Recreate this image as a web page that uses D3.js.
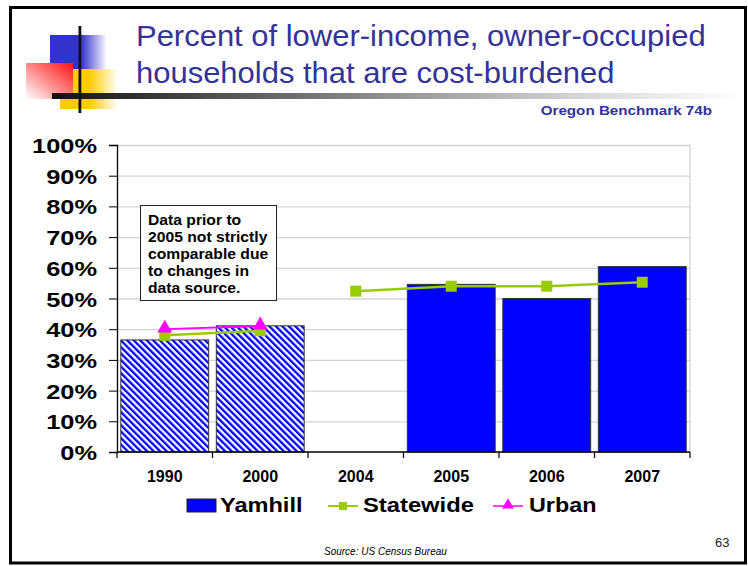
<!DOCTYPE html>
<html>
<head>
<meta charset="utf-8">
<script src="https://cdn.jsdelivr.net/npm/d3@7"></script>
<style>
  html, body { margin: 0; padding: 0; background: #fff; }
  svg { display: block; }
  text { font-family: "Liberation Sans", Arial, sans-serif; }
</style>
</head>
<body>
<script>
// ---------- data ----------
const years      = ["1990", "2000", "2004", "2005", "2006", "2007"];
const period     = ["old", "old", "new", "new", "new", "new"];   // data prior to 2005 not comparable
const yamhill    = [0.365, 0.411, null, 0.546, 0.500, 0.604];
const statewide  = [0.380, 0.395, 0.524, 0.540, 0.540, 0.553];
const urban      = [0.400, 0.410, null, null, null, null];
const yTicks     = [0, 0.1, 0.2, 0.3, 0.4, 0.5, 0.6, 0.7, 0.8, 0.9, 1.0];
const titleLines = ["Percent of lower-income, owner-occupied", "households that are cost-burdened"];
const subtitle   = "Oregon Benchmark 74b";
const noteLines  = ["Data prior to", "2005 not strictly", "comparable due", "to changes in", "data source."];
const seriesNames = ["Yamhill", "Statewide", "Urban"];
const sourceText = "Source:  US Census Bureau";
const pageNum    = "63";

// ---------- setup ----------
const W = 748, H = 566;
const svg = d3.select("body").append("svg").attr("width", W).attr("height", H);
const defs = svg.append("defs");

// gradients
function linGrad(id, x1, y1, x2, y2, stops) {
  const g = defs.append("linearGradient").attr("id", id)
    .attr("x1", x1).attr("y1", y1).attr("x2", x2).attr("y2", y2);
  stops.forEach(s => g.append("stop").attr("offset", s[0]).attr("stop-color", s[1]));
}
linGrad("gBlue", 0, 0, 1, 0, [[0, "#3333cc"], [0.55, "#3333cc"], [1, "#ffffff"]]);
linGrad("gYellow", 0, 0, 1, 0, [[0, "#ffcc00"], [0.5, "#ffcc00"], [1, "#ffffff"]]);
linGrad("gRed", 1, 0, 0, 1, [[0, "#ff1010"], [1, "#ffffff"]]);
linGrad("gBar", 0, 0, 1, 0, [[0, "#111111"], [0.45, "#888888"], [0.8, "#dddddd"], [1, "#ffffff"]]);

// hatch pattern
const hp = 4.6;
const pat = defs.append("pattern").attr("id", "hatch")
  .attr("patternUnits", "userSpaceOnUse").attr("width", hp).attr("height", hp)
  .attr("patternTransform", "rotate(-45)");
pat.append("rect").attr("width", hp).attr("height", hp).attr("fill", "#ffffff");
pat.append("rect").attr("width", hp / 2).attr("height", hp).attr("fill", "#0000ff");

// ---------- slide frame ----------
svg.append("rect").attr("x", 10.5).attr("y", 7.5).attr("width", 735).attr("height", 555.5)
  .attr("fill", "#fff").attr("stroke", "#000").attr("stroke-width", 3);

// ---------- logo ----------
svg.append("rect").attr("x", 50).attr("y", 35).attr("width", 57).attr("height", 35).attr("fill", "url(#gBlue)");
svg.append("rect").attr("x", 60).attr("y", 69).attr("width", 58).attr("height", 40).attr("fill", "url(#gYellow)");
svg.append("rect").attr("x", 26).attr("y", 63).attr("width", 47).attr("height", 36).attr("fill", "url(#gRed)");
svg.append("rect").attr("x", 52).attr("y", 93).attr("width", 690).attr("height", 6).attr("fill", "url(#gBar)");
svg.append("rect").attr("x", 78.5).attr("y", 26).attr("width", 2.8).attr("height", 87).attr("fill", "#111");

// ---------- title ----------
const titleG = svg.append("g");
titleLines.forEach((t, i) => {
  titleG.append("text")
    .attr("transform", `translate(136,${46 + i * 36.5}) scale(1.05,1)`)
    .attr("font-size", 29.5).attr("fill", "#333399").text(t);
});
svg.append("text")
  .attr("transform", "translate(712,115) scale(1.17,1)")
  .attr("text-anchor", "end").attr("font-size", 13).attr("font-weight", "bold")
  .attr("fill", "#333399").text(subtitle);

// ---------- chart ----------
const L = 117, R = 690, T = 145, B = 452;
const x = d3.scaleBand().domain(years).range([L, R]).paddingInner(0.08).paddingOuter(0.04);
const y = d3.scaleLinear().domain([0, 1]).range([B, T]);
const step = x.step();
const cx = d => x(d) + x.bandwidth() / 2;

// plot background + gridlines
svg.append("rect").attr("x", L).attr("y", T).attr("width", R - L).attr("height", B - T).attr("fill", "#fff");
const grid = svg.append("g").attr("transform", `translate(${L},0)`)
  .call(d3.axisLeft(y).tickValues(yTicks.slice(1)).tickSize(-(R - L)).tickFormat(""));
grid.select(".domain").remove();
grid.selectAll("line").attr("stroke", "#d4d4d4").attr("stroke-width", 1.3);
svg.append("line").attr("x1", R).attr("x2", R).attr("y1", T).attr("y2", B)
  .attr("stroke", "#d4d4d4").attr("stroke-width", 1.3);

// bars
svg.append("g").selectAll("rect")
  .data(years.map((d, i) => ({ year: d, v: yamhill[i], p: period[i] })).filter(d => d.v != null))
  .join("rect")
  .attr("x", d => x(d.year)).attr("width", x.bandwidth())
  .attr("y", d => y(d.v)).attr("height", d => B - y(d.v))
  .attr("fill", d => d.p === "old" ? "url(#hatch)" : "#0000ff")
  .attr("stroke", "#333").attr("stroke-width", 1);

// y axis
const yAx = svg.append("g").attr("transform", `translate(${L},0)`)
  .call(d3.axisLeft(y).tickValues(yTicks).tickSize(8).tickFormat(d3.format(".0%")));
yAx.select(".domain").attr("stroke", "#000").attr("stroke-width", 1.3);
yAx.selectAll("line").attr("stroke", "#000");
yAx.selectAll("text")
  .attr("font-family", "Liberation Sans, Arial, sans-serif")
  .attr("font-size", 21).attr("font-weight", "bold").attr("fill", "#000")
  .attr("x", -20 / 1.21).attr("dy", "0.36em")
  .attr("transform", "scale(1.21,1)");

// x axis
const xAx = svg.append("g").attr("transform", `translate(0,${B})`)
  .call(d3.axisBottom(x).tickSize(0).tickPadding(0));
xAx.select(".domain").attr("stroke", "#000").attr("stroke-width", 1.3).attr("d", `M${L},0H${R}`);
xAx.selectAll("text")
  .attr("font-family", "Liberation Sans, Arial, sans-serif")
  .attr("font-size", 16).attr("font-weight", "bold").attr("fill", "#000")
  .attr("y", 29.5).attr("dy", 0);
const bounds = years.map(d => x(d) - step * x.paddingInner() / 2).concat([R]);
bounds[0] = L;
xAx.append("g").selectAll("line").data(bounds).join("line")
  .attr("x1", d => d).attr("x2", d => d).attr("y1", 0).attr("y2", 6)
  .attr("stroke", "#000").attr("stroke-width", 1.2);

// lines
const pts = (vals) => years.map((d, i) => ({ year: d, v: vals[i], p: period[i] })).filter(d => d.v != null);
const lineGen = d3.line().x(d => cx(d.year)).y(d => y(d.v));
function drawLine(vals, color, width) {
  const all = pts(vals);
  ["old", "new"].forEach(p => {
    const seg = all.filter(d => d.p === p);
    if (seg.length > 1) {
      svg.append("path").datum(seg).attr("d", lineGen)
        .attr("fill", "none").attr("stroke", color).attr("stroke-width", width);
    }
  });
  return all;
}
const swPts = drawLine(statewide, "#99cc00", 2.5);
const urPts = drawLine(urban, "#ff00ff", 1.8);

const sq = 11;
svg.append("g").selectAll("rect").data(swPts).join("rect")
  .attr("x", d => cx(d.year) - sq / 2).attr("y", d => y(d.v) - sq / 2)
  .attr("width", sq).attr("height", sq).attr("fill", "#99cc00");
const tri = d3.symbol().type(d3.symbolTriangle).size(95);
svg.append("g").selectAll("path").data(urPts).join("path")
  .attr("transform", d => `translate(${cx(d.year)},${y(d.v) - 1})`)
  .attr("d", tri).attr("fill", "#ff00ff");

// note box
svg.append("rect").attr("x", 140.5).attr("y", 205.5).attr("width", 136).attr("height", 95)
  .attr("fill", "#fff").attr("stroke", "#222").attr("stroke-width", 1);
noteLines.forEach((t, i) => {
  svg.append("text")
    .attr("transform", `translate(148,${225 + i * 17}) scale(1.12,1)`)
    .attr("font-size", 14).attr("font-weight", "bold").attr("fill", "#000").text(t);
});

// ---------- legend ----------
const lg = svg.append("g");
// Yamhill
lg.append("rect").attr("x", 187).attr("y", 499).attr("width", 29).attr("height", 13)
  .attr("fill", "#0000ff").attr("stroke", "#222").attr("stroke-width", 1);
lg.append("text").attr("transform", "translate(220,512) scale(1.15,1)")
  .attr("font-size", 20.5).attr("font-weight", "bold").text(seriesNames[0]);
// Statewide
lg.append("line").attr("x1", 328).attr("x2", 358).attr("y1", 506).attr("y2", 506)
  .attr("stroke", "#99cc00").attr("stroke-width", 2);
lg.append("rect").attr("x", 339).attr("y", 502).attr("width", 8).attr("height", 8).attr("fill", "#99cc00");
lg.append("text").attr("transform", "translate(363,512) scale(1.16,1)")
  .attr("font-size", 20.5).attr("font-weight", "bold").text(seriesNames[1]);
// Urban
lg.append("line").attr("x1", 493).attr("x2", 523).attr("y1", 506).attr("y2", 506)
  .attr("stroke", "#ff00ff").attr("stroke-width", 1.5);
lg.append("path").attr("transform", "translate(508,505)")
  .attr("d", d3.symbol().type(d3.symbolTriangle).size(60)).attr("fill", "#ff00ff");
lg.append("text").attr("transform", "translate(529,512) scale(1.14,1)")
  .attr("font-size", 20.5).attr("font-weight", "bold").text(seriesNames[2]);

// ---------- footer ----------
svg.append("text").attr("x", 324).attr("y", 555)
  .attr("font-size", 10).attr("font-style", "italic").attr("fill", "#000").text(sourceText);
svg.append("text").attr("x", 715).attr("y", 547)
  .attr("font-size", 13).attr("fill", "#222").text(pageNum);
</script>
</body>
</html>
